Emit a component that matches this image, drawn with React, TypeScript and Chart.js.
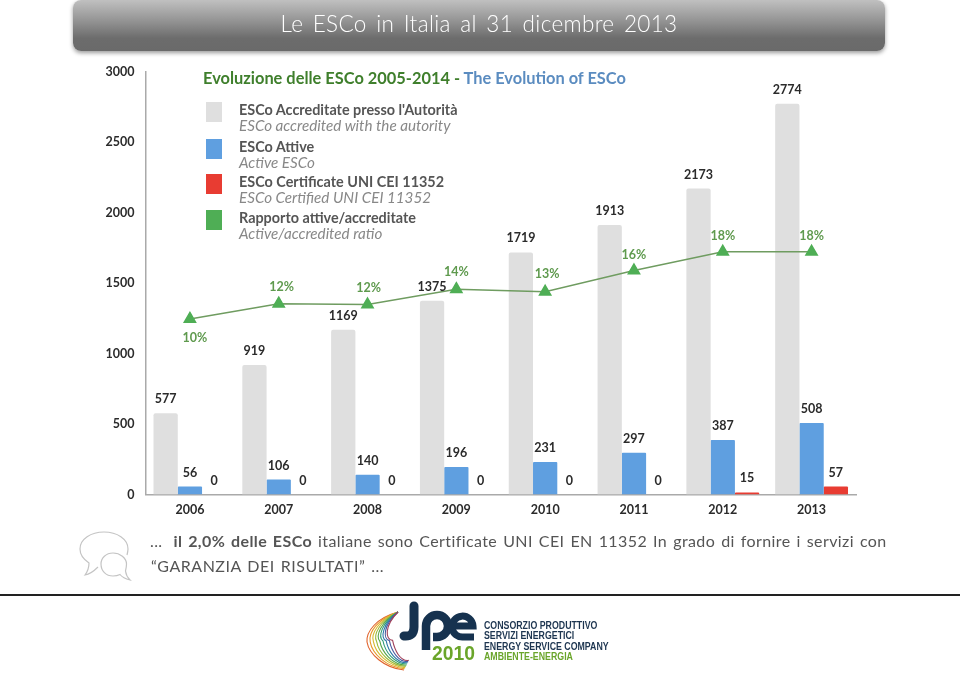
import React, { useEffect, useRef } from "react";
import { Chart, registerables } from "chart.js";

Chart.register(...registerables);

const years = ["2006", "2007", "2008", "2009", "2010", "2011", "2012", "2013"];
const accredited = [577, 919, 1169, 1375, 1719, 1913, 2173, 2774];
const active = [56, 106, 140, 196, 231, 297, 387, 508];
const certified = [0, 0, 0, 0, 0, 0, 15, 57];
const ratio = [10, 11.8, 11.7, 13.5, 13.2, 15.7, 17.9, 17.9];
const ratioLabels = ["10%", "12%", "12%", "14%", "13%", "16%", "18%", "18%"];
const ratioLabelDx = [5, 3, 1, 0, 2, 0, 0, 0];
const ratioLabelDy = [19, -17, -17, -17, -18, -16, -16, -16];

const GREY = "#dfdfdf";
const BLUE = "#5f9fe0";
const RED = "#e83c32";
const GREEN = "#4fae55";
const FONT = "Lato, 'Open Sans', sans-serif";

const legendRows = [
  { color: GREY, it: "ESCo Accreditate presso l'Autorità", en: "ESCo accredited with the autority", top: 101 },
  { color: BLUE, it: "ESCo Attive", en: "Active ESCo", top: 137.5 },
  { color: RED, it: "ESCo Certificate UNI CEI 11352", en: "ESCo Certified UNI CEI 11352", top: 172.5 },
  { color: GREEN, it: "Rapporto attive/accreditate", en: "Active/accredited ratio", top: 208.5 },
];

const fanColors = ["#e0612a", "#e89a2a", "#d6b92e", "#9dbb3a", "#57a548", "#2f9a78", "#2c78a8", "#4a5aa0", "#a0405a"];

const labelPlugin = {
  id: "valueLabels",
  afterDatasetsDraw(chart: any) {
    const { ctx } = chart;
    ctx.save();
    ctx.textAlign = "center";
    ctx.textBaseline = "middle";
    chart.data.datasets.forEach((ds: any, i: number) => {
      const meta = chart.getDatasetMeta(i);
      meta.data.forEach((el: any, j: number) => {
        if (ds.type === "line") {
          ctx.fillStyle = "#5f9a4e";
          ctx.font = `bold 12.5px ${FONT}`;
          ctx.fillText(ratioLabels[j], el.x + ratioLabelDx[j], el.y + ratioLabelDy[j]);
        } else {
          ctx.fillStyle = "#2b2b2b";
          ctx.font = `bold 12.5px ${FONT}`;
          ctx.fillText(String(ds.data[j]), el.x, el.y - 14);
        }
      });
    });
    ctx.restore();
  },
};

export default function App() {
  const ref = useRef<HTMLCanvasElement>(null);
  useEffect(() => {
    document.body.style.margin = "0";
    document.body.style.overflow = "hidden";
    const chart = new Chart(ref.current!, {
      type: "bar",
      data: {
        labels: years,
        datasets: [
          { type: "line", label: "Rapporto attive/accreditate", data: ratio, yAxisID: "y2", borderColor: "#6f9c60", backgroundColor: GREEN, borderWidth: 1.5, pointStyle: "triangle", pointRadius: 6.5, pointBackgroundColor: GREEN, pointBorderColor: GREEN, tension: 0, order: 0 },
          { label: "ESCo Accreditate", data: accredited, backgroundColor: GREY, borderRadius: 2, order: 1 },
          { label: "ESCo Attive", data: active, backgroundColor: BLUE, borderRadius: 1, order: 1 },
          { label: "ESCo Certificate", data: certified, backgroundColor: RED, borderRadius: 1, order: 1 },
        ] as any,
      },
      options: {
        animation: false,
        responsive: false,
        layout: { padding: { left: 0, top: 72, right: 104, bottom: 0 } },
        plugins: { legend: { display: false }, title: { display: false }, tooltip: { enabled: false } },
        datasets: { bar: { categoryPercentage: 0.82, barPercentage: 1 } },
        scales: {
          x: {
            grid: { display: false, drawTicks: false },
            border: { color: "#aaaaaa", width: 1.5 },
            ticks: { color: "#2b2b2b", font: { family: FONT, size: 12.5, weight: "bold" }, padding: 8, maxRotation: 0 },
            afterFit: (s: any) => { s.height = 179.5; },
          },
          y: {
            min: 0,
            max: 3000,
            grid: { display: false, drawTicks: false },
            border: { color: "#aaaaaa", width: 1.5 },
            ticks: { stepSize: 500, color: "#2b2b2b", font: { family: FONT, size: 12.5, weight: "bold" }, padding: 11, callback: (v: any) => String(v) },
            afterFit: (s: any) => { s.width = 145.5; },
          },
          y2: { display: false, min: -10.65, max: 39.06 },
        },
      } as any,
      plugins: [labelPlugin],
    });
    return () => chart.destroy();
  }, []);

  const abs = (left: number, top: number, extra: React.CSSProperties = {}): React.CSSProperties => ({
    position: "absolute", left, top, whiteSpace: "nowrap", ...extra,
  });

  return (
    <div style={{ position: "absolute", left: 0, top: 0, width: 960, height: 674, overflow: "hidden", background: "#fff", fontFamily: FONT }}>
      <canvas ref={ref} width={960} height={674} style={{ position: "absolute", left: 0, top: 0 }} />

      <div style={{ position: "absolute", left: 73, top: 0, width: 812, height: 51, borderRadius: 8, background: "linear-gradient(#c0c0c0 0%, #8f8f8f 45%, #6c6c6c 75%, #6a6a6a 100%)", boxShadow: "0 2px 4px rgba(0,0,0,0.4)", color: "#fff", fontSize: 22.5, lineHeight: "48px", textAlign: "center", fontWeight: 300, wordSpacing: 3, letterSpacing: 0.35 }}>
        Le ESCo in Italia al 31 dicembre 2013
      </div>

      <div style={abs(203, 68, { fontSize: 16.4, fontWeight: 700, color: "#3f7f2c" })}>
        Evoluzione delle ESCo 2005-2014 - <span style={{ color: "#5b8cc0" }}>The Evolution of ESCo</span>
      </div>

      {legendRows.map((r) => (
        <React.Fragment key={r.it}>
          <div style={{ position: "absolute", left: 205.5, top: Math.round(r.top + 1), width: 16, height: 20, background: r.color }} />
          <div style={abs(239, r.top, { fontSize: 14.4, fontWeight: 700, color: "#555", lineHeight: "17px" })}>{r.it}</div>
          <div style={abs(239, r.top + 16, { fontSize: 15.2, fontStyle: "italic", color: "#888", lineHeight: "17px" })}>{r.en}</div>
        </React.Fragment>
      ))}

      <svg style={{ position: "absolute", left: 70, top: 525 }} width={70} height={60} viewBox="70 525 70 60" fill="none" stroke="#c4c4c4" strokeWidth={1.2}>
        <path d="M98 567 C95 570 91 574 85 575 C88 571 89 567 89 563 C83 559 80 554 80 549 C80 539 91 532 104 532 C117 532 128 539 128 549 C128 551 127.5 553 127 555" />
        <path d="M113 553 C106 553 101 558 101 564 C101 571 106 576 113 576 C116 576 118 575.5 120 574.5 C122 577 126 579 130 580 C128 578 126 575 125.5 571 C126 569 126.5 567 126.5 564 C126.5 558 120 553 113 553 Z" />
      </svg>

      <div style={abs(150, 530, { fontSize: 16, lineHeight: "22px", color: "#555", letterSpacing: 0.4, wordSpacing: 1.5 })}>
        ... <b style={{ marginLeft: 5 }}>il 2,0% delle ESCo</b> italiane sono Certificate UNI CEI EN 11352 In grado di fornire i servizi con
      </div>
      <div style={abs(151, 555, { fontSize: 16, lineHeight: "22px", color: "#555", letterSpacing: 0.5, wordSpacing: 1.5 })}>
        “GARANZIA DEI RISULTATI” ...
      </div>

      <div style={{ position: "absolute", left: 0, top: 594, width: 960, height: 2, background: "#222" }} />

      <svg style={{ position: "absolute", left: 355, top: 596 }} width={130} height={78} viewBox="355 596 130 78" fill="none">
        {fanColors.map((c, i) => (
          <path key={c} d={`M398 612 C${376 + i} ${618 + i} ${366 + i * 2.4} ${632 + i} ${367 + i * 3.2} ${642 - i * 0.2} C${369 + i * 3.2} ${654 - i * 0.5} ${384 + i * 2} ${668 - i * 0.8} ${404 + i * 0.6} ${670 - i * 1.2}`} stroke={c} strokeWidth={1.1} />
        ))}
        <path d="M414 606 L414 627 Q414 637 404 636" stroke="#16324f" strokeWidth={9} strokeLinecap="round" />
        <path d="M426 650 L426 626 A11 11 0 1 1 437 637 L433 637" stroke="#16324f" strokeWidth={8.5} strokeLinecap="butt" />
        <path d="M453 626 L473 626 A10.5 10.5 0 1 0 464 637 L474 637" stroke="#16324f" strokeWidth={7} />
        <rect x={431} y={644} width={46} height={17} fill="#fff" />
        <text x={432} y={660} fontFamily="Liberation Sans, sans-serif" fontWeight={700} fontSize={20} fill="#6aa52a" textLength={43} lengthAdjust="spacingAndGlyphs">2010</text>
      </svg>
      <div style={abs(484, 619.5, { fontFamily: "'Liberation Sans', sans-serif", fontSize: 11.5, fontWeight: 700, lineHeight: "10.6px", color: "#1d3550", transform: "scaleX(0.765)", transformOrigin: "left top" })}>
        <div>CONSORZIO PRODUTTIVO</div>
        <div>SERVIZI ENERGETICI</div>
        <div>ENERGY SERVICE COMPANY</div>
        <div style={{ color: "#6aa52a" }}>AMBIENTE-ENERGIA</div>
      </div>
    </div>
  );
}
